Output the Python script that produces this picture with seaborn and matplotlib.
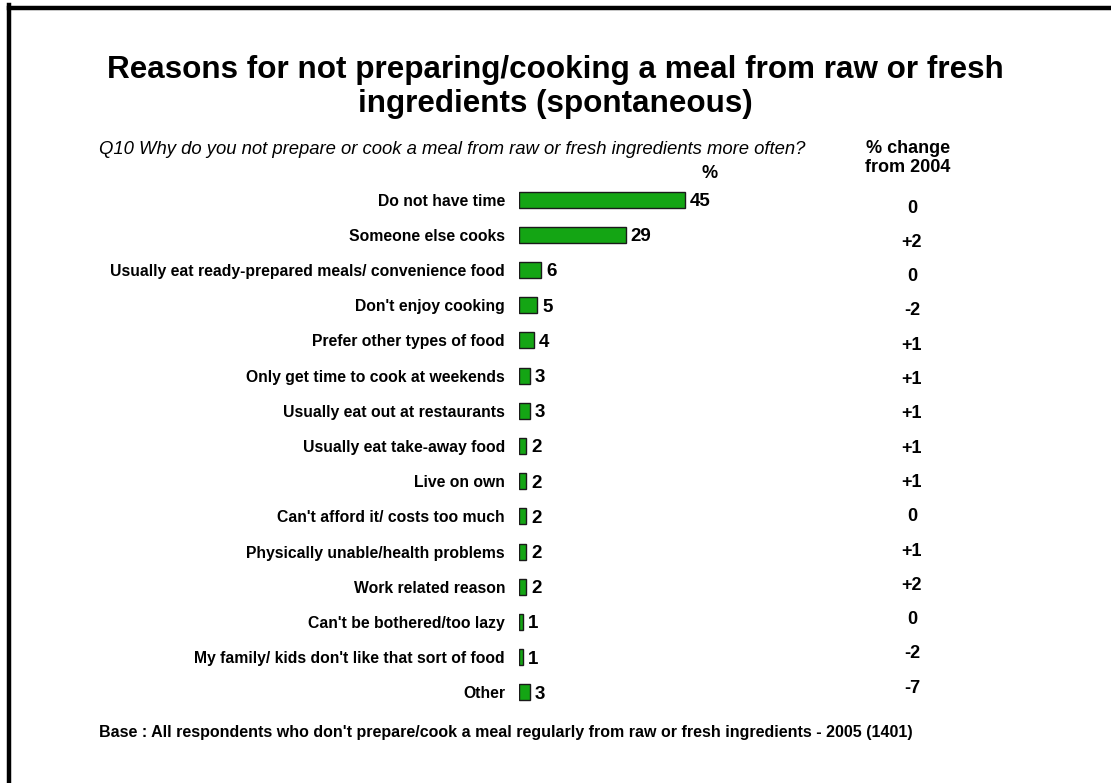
import matplotlib
matplotlib.use("Agg")
import matplotlib.pyplot as plt
import seaborn as sns
import pandas as pd
from matplotlib.lines import Line2D

reasons = [
    "Do not have time",
    "Someone else cooks",
    "Usually eat ready-prepared meals/ convenience food",
    "Don't enjoy cooking",
    "Prefer other types of food",
    "Only get time to cook at weekends",
    "Usually eat out at restaurants",
    "Usually eat take-away food",
    "Live on own",
    "Can't afford it/ costs too much",
    "Physically unable/health problems",
    "Work related reason",
    "Can't be bothered/too lazy",
    "My family/ kids don't like that sort of food",
    "Other",
]
pct_2005 = [45, 29, 6, 5, 4, 3, 3, 2, 2, 2, 2, 2, 1, 1, 3]
change_from_2004 = ["0", "+2", "0", "-2", "+1", "+1", "+1", "+1", "+1", "0", "+1", "+2", "0", "-2", "-7"]

title = "Reasons for not preparing/cooking a meal from raw or fresh\ningredients (spontaneous)"
question = "Q10 Why do you not prepare or cook a meal from raw or fresh ingredients more often?"
base_note = ("Base : All respondents who don't prepare/cook a meal regularly from raw or "
             "fresh ingredients - 2005 (1401)")

sns.set_theme(style="white")
plt.rcParams["font.family"] = ["Liberation Sans", "DejaVu Sans"]
plt.rcParams["text.color"] = "black"

W, H = 1111, 783
fig = plt.figure(figsize=(W / 100, H / 100), dpi=100)

# axes in pixel terms: value 0 at x=519, 3.69 px per percentage point
ax_left, ax_top, ax_bottom = 519, 182, 710
xmax = 50
ax_w = 3.69 * xmax
ax = fig.add_axes([ax_left / W, 1 - ax_bottom / H, ax_w / W, (ax_bottom - ax_top) / H])

df = pd.DataFrame({"reason": reasons, "pct": pct_2005})
sns.barplot(data=df, x="pct", y="reason", orient="h", color="#14a514",
            saturation=1, width=0.46, edgecolor="#1a1a1a", linewidth=1.0, ax=ax)

ax.set_xlim(0, xmax)
ax.set_ylim(len(reasons) - 0.5, -0.5)
ax.set_xlabel("")
ax.set_ylabel("")
ax.set_xticks([])
for s in ax.spines.values():
    s.set_visible(False)
ax.tick_params(axis="y", length=0, pad=10)
for lbl in ax.get_yticklabels():
    lbl.set_fontweight("bold")
    lbl.set_fontsize(11.3)
    lbl.set_color("black")

# value labels at bar ends
for i, v in enumerate(pct_2005):
    ax.annotate(str(v), xy=(v, i), xytext=(3.5, 0), textcoords="offset points",
                ha="left", va="center_baseline", fontsize=13.5, fontweight="bold",
                color="black", annotation_clip=False)

# change column, evenly spaced down the right-hand side
chg_top, chg_step = 206, 34.3
for i, c in enumerate(change_from_2004):
    fig.text(912 / W, 1 - (chg_top + i * chg_step) / H, c, ha="center",
             va="center_baseline", fontsize=13, fontweight="bold")

# headings and notes
fig.text(555 / W, 1 - 87 / H, title, ha="center", va="center", fontsize=22.6,
         fontweight="bold", linespacing=1.15)
fig.text(99 / W, 1 - 149 / H, question, ha="left", va="center", fontsize=13.3,
         style="italic")
fig.text(710 / W, 1 - 174 / H, "%", ha="center", va="center", fontsize=13,
         fontweight="bold")
fig.text(908 / W, 1 - 158 / H, "% change\nfrom 2004", ha="center", va="center",
         fontsize=13, fontweight="bold", linespacing=1.1)
fig.text(99 / W, 1 - 732 / H, base_note, ha="left", va="center", fontsize=11.5,
         fontweight="bold")

# frame along the top and left edges
fig.add_artist(Line2D([9 / W, 9 / W], [1 - 5 / H, 0], transform=fig.transFigure,
                      color="black", linewidth=3.2, solid_capstyle="projecting"))
fig.add_artist(Line2D([9 / W, 1], [1 - 7.5 / H, 1 - 7.5 / H], transform=fig.transFigure,
                      color="black", linewidth=3.2, solid_capstyle="projecting"))

fig.savefig("out.png", dpi=100, facecolor="white")
